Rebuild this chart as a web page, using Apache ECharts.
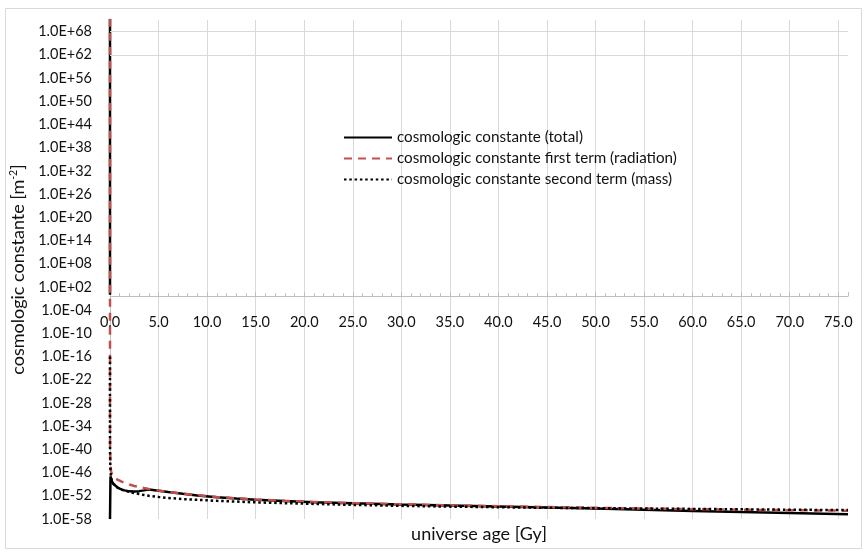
<!DOCTYPE html>
<html><head><meta charset="utf-8">
<script src="https://cdn.jsdelivr.net/npm/echarts@6/dist/echarts.min.js"></script>
<style>html,body{margin:0;padding:0;background:#fff}#c{width:867px;height:555px}</style>
</head><body><div id="c"></div>
<script>
// universe age [Gy]
const ageGy = [1e-30, 1e-25, 1e-20, 1e-15, 1e-12, 1e-9, 1e-6, 1e-4, 0.01, 0.05,
  0.1, 0.2, 0.35, 0.5, 0.75, 1, 1.25, 1.5, 2, 2.5,
  3, 3.5, 4, 5, 6, 7.5, 9, 11, 13, 15,
  18, 21, 25, 30, 35, 40, 45, 50, 55, 60,
  65, 70, 76];
// cosmologic constante (total) [m^-2]
const totalVals = [2e71, 1e52, 1e32, 1e12, 1, null, null, 1e-58, 1e-58, 1e-47,
  5e-48, 5.6e-49, 1.25e-49, 5e-50, 1.6e-50, 7e-51, 4e-51, 2.5e-51, 1.4e-51, 1.25e-51,
  1.6e-51, 2.5e-51, 4e-51, 2e-51, 9e-52, 3.2e-52, 1.25e-52, 4.5e-53, 2e-53, 1e-53,
  4.5e-54, 2.2e-54, 1.1e-54, 5.6e-55, 3.2e-55, 1.8e-55, 1e-55, 5e-56, 2.5e-56, 1.25e-56,
  6.3e-57, 3.5e-57, 1.6e-57];
// first term (radiation)
const radiationVals = [2e71, 1e52, 1e32, 1e12, 1, 1e-12, 1e-24, 1e-32, 1e-40, 3e-44,
  2.5e-46, 4e-47, 1e-47, 4.5e-48, 1.6e-48, 8e-49, 4e-49, 2.2e-49, 8e-50, 3.5e-50,
  1.8e-50, 1e-50, 5.6e-51, 2.2e-51, 1e-51, 3.5e-52, 1.4e-52, 5e-53, 2.2e-53, 1.1e-53,
  5e-54, 2.5e-54, 1.25e-54, 6.3e-55, 3.5e-55, 2e-55, 1.25e-55, 8e-56, 5e-56, 3.5e-56,
  2.5e-56, 1.9e-56, 1.4e-56];
// second term (mass)
const massVals = [null, null, null, null, null, 1e-16, 1e-28, 1e-36, 1e-42, 3e-46,
  6.3e-48, 6.3e-49, 1.25e-49, 4.5e-50, 1.4e-50, 6.3e-51, 3.5e-51, 2.2e-51, 1e-51, 5e-52,
  2.8e-52, 1.6e-52, 1e-52, 5e-53, 2.8e-53, 1.4e-53, 9e-54, 5e-54, 3.2e-54, 2e-54,
  1.25e-54, 8e-55, 4.5e-55, 2.5e-55, 1.6e-55, 1.1e-55, 8e-56, 6.3e-56, 5e-56, 4e-56,
  3.2e-56, 2.5e-56, 2e-56];
const seriesNames = ['cosmologic constante (total)',
  'cosmologic constante first term (radiation)',
  'cosmologic constante second term (mass)'];
const yTickExponents = [-58, -52, -46, -40, -34, -28, -22, -16, -10, -4, 2, 8, 14, 20, 26, 32, 38, 44, 50, 56, 62, 68];
const yGridExponents = [68, 62];
const xMin = 0, xMax = 76, xStep = 5;
const yMinExp = -58, yMaxExp = 71;

const W = 867, H = 555;
const GRID = {left: 110, right: 19, top: 20, bottom: 36};
const plotH = H - GRID.top - GRID.bottom;
const xAxisOffset = -plotH * (0 - yMinExp) / (yMaxExp - yMinExp) + 1.5;

const FONT = 'Lato, "Open Sans", sans-serif';
const TXT = '#111';
const GRIDC = '#d9d9d9';

function sci(v) {
  const e = Math.round(Math.log10(v));
  return '1.0E' + (e < 0 ? '-' : '+') + String(Math.abs(e)).padStart(2, '0');
}
function pairs(vals) { return ageGy.map((t, i) => [t, vals[i]]); }

const chart = echarts.init(document.getElementById('c'), null, {renderer: 'canvas'});
chart.setOption({
  animation: false,
  backgroundColor: '#fff',
  textStyle: {fontFamily: FONT},
  graphic: [{type: 'rect', shape: {x: 5.5, y: 8.5, width: 856, height: 540},
    style: {fill: 'none', stroke: GRIDC, lineWidth: 1}, silent: true}],
  grid: {left: GRID.left, right: GRID.right, top: GRID.top, bottom: GRID.bottom, containLabel: false},
  legend: {
    show: true, orient: 'vertical', left: 338, top: 125, itemWidth: 48, itemHeight: 14, itemGap: 6,
    itemStyle: {opacity: 0},
    textStyle: {fontFamily: FONT, fontSize: 15.2, color: TXT},
    data: seriesNames
  },
  xAxis: [{
    type: 'value', min: xMin, max: xMax, interval: xStep, position: 'bottom', offset: xAxisOffset,
    axisLine: {onZero: false, lineStyle: {color: '#bfbfbf', width: 1}},
    axisTick: {show: true, inside: true, length: 4, lineStyle: {color: '#bfbfbf'}},
    minorTick: {show: true, splitNumber: 5, length: 3, lineStyle: {color: '#bfbfbf'}},
    axisLabel: {margin: 19, fontFamily: FONT, fontSize: 14.5, color: TXT, showMaxLabel: false,
      formatter: v => v.toFixed(1)},
    splitLine: {show: true, showMaxLine: false, showMinLine: false, lineStyle: {color: GRIDC, width: 1}}
  }, {
    type: 'value', min: xMin, max: xMax, position: 'bottom',
    name: 'universe age [Gy]', nameLocation: 'middle', nameGap: 6,
    nameTextStyle: {fontFamily: FONT, fontSize: 18, color: TXT},
    axisLine: {show: false}, axisTick: {show: false}, axisLabel: {show: false}, splitLine: {show: false}
  }],
  yAxis: {
    type: 'log', logBase: 10, min: Math.pow(10, yMinExp), max: Math.pow(10, yMaxExp),
    axisLine: {show: true, onZero: false, lineStyle: {color: '#bfbfbf'}},
    axisTick: {show: false},
    axisLabel: {margin: 18, fontFamily: FONT, fontSize: 14.5, color: TXT, formatter: sci,
      customValues: yTickExponents.map(e => Math.pow(10, e))},
    splitLine: {show: false},
    name: '{a|cosmologic constante [m}{s|-2}{a|]}', nameLocation: 'middle', nameGap: 82, nameRotate: 90,
    nameTextStyle: {rich: {
      a: {fontFamily: FONT, fontSize: 18, color: TXT, lineHeight: 20},
      s: {fontFamily: FONT, fontSize: 10.5, color: TXT, lineHeight: 20, verticalAlign: 'top', padding: [0, 0, 7, 0]}
    }}
  },
  series: [{
    name: seriesNames[0], type: 'line', data: pairs(totalVals), showSymbol: false, symbol: 'none',
    lineStyle: {color: '#000', width: 2.5, type: 'solid'}, itemStyle: {color: '#000'},
    markLine: {silent: true, symbol: 'none', label: {show: false}, animation: false,
      lineStyle: {color: GRIDC, width: 1, type: 'solid'},
      data: yGridExponents.map(e => ({yAxis: Math.pow(10, e)}))}, z: 2
  }, {
    name: seriesNames[1], type: 'line', data: pairs(radiationVals), showSymbol: false, symbol: 'none',
    lineStyle: {color: '#C0504D', width: 2.5, type: [8, 6]}, itemStyle: {color: '#C0504D'}, z: 3
  }, {
    name: seriesNames[2], type: 'line', data: pairs(massVals), showSymbol: false, symbol: 'none',
    lineStyle: {color: '#000', width: 2.5, type: [2.5, 2.8]}, itemStyle: {color: '#000'}, z: 4
  }]
});
</script>
</body></html>
